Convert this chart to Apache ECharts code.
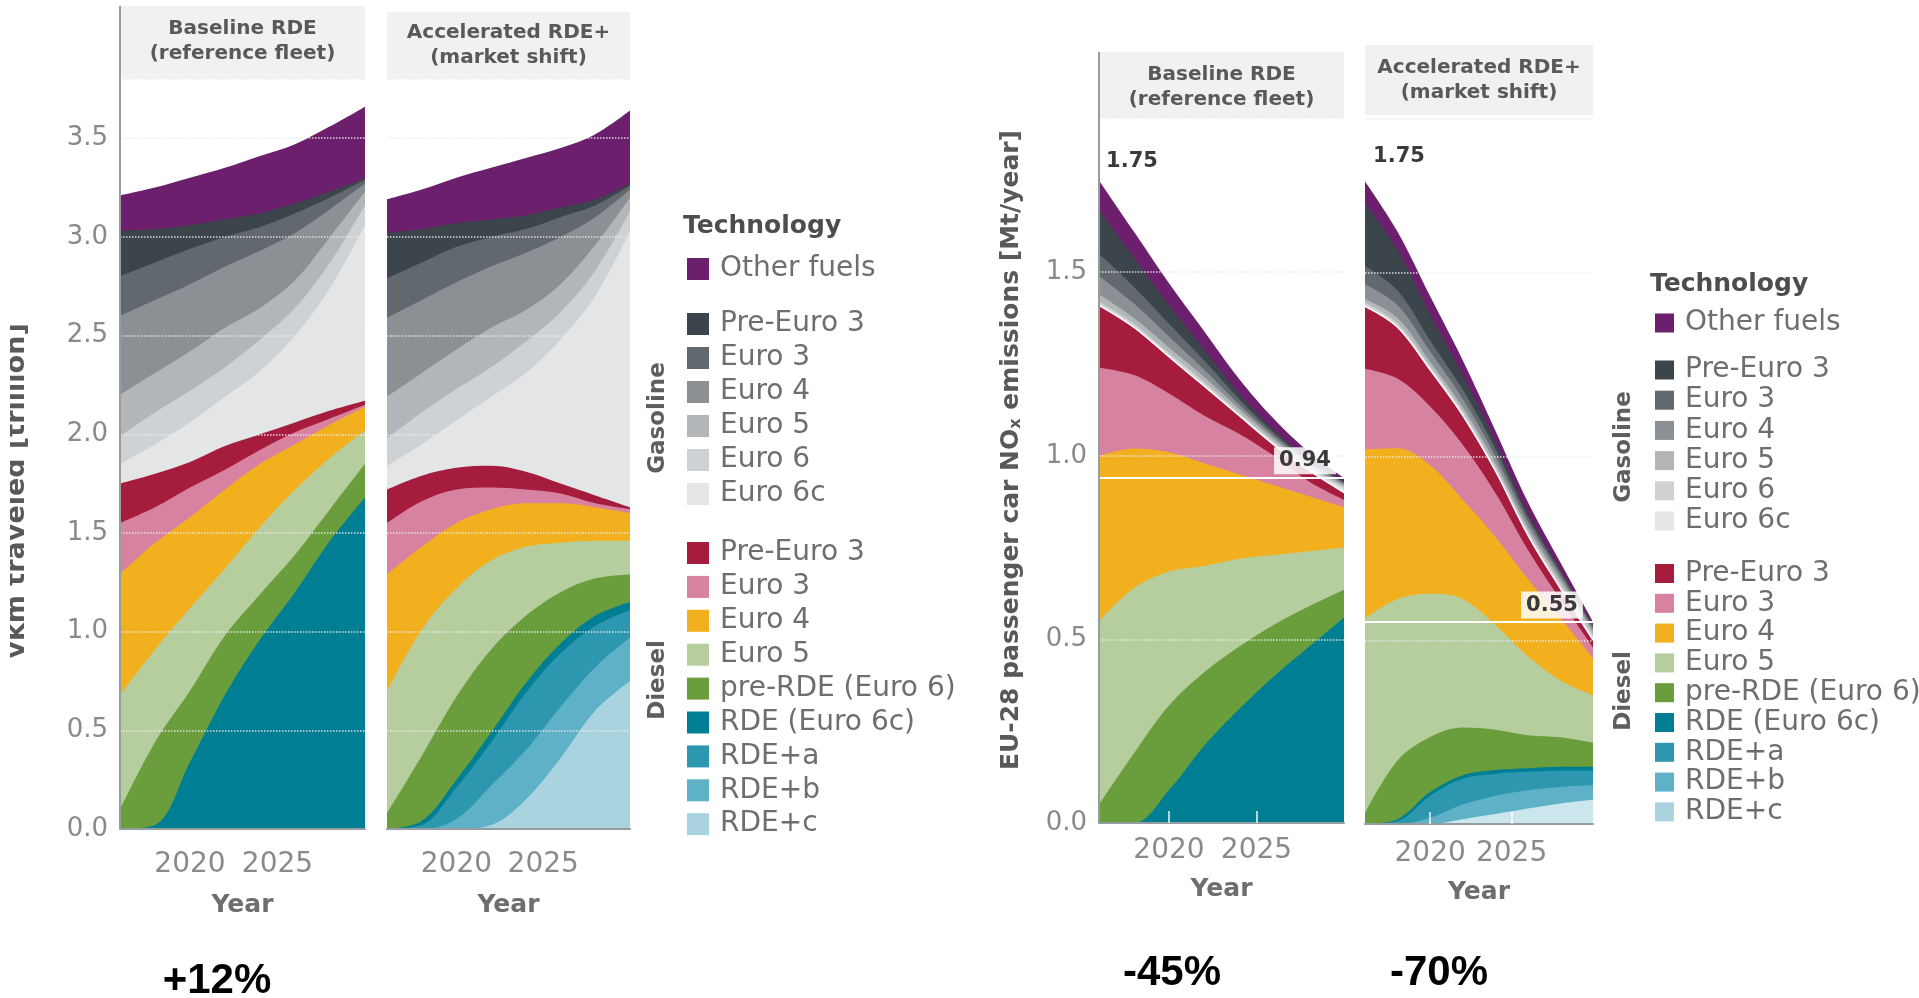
<!DOCTYPE html>
<html>
<head>
<meta charset="utf-8">
<title>VKM and NOx by technology</title>
<script src="https://cdn.jsdelivr.net/npm/echarts@6.0.0/dist/echarts.min.js"></script>
<style>
html,body{margin:0;padding:0;background:#fff;}
#chart{width:1919px;height:998px;}
</style>
</head>
<body>
<div id="chart"></div>
<script>
//年份
const years=[2016,2018,2020,2022,2024,2026,2028,2030];
const xTicks=[2020,2025];
//系列名，从下往上堆叠
const seriesNames=['Diesel RDE+c','Diesel RDE+b','Diesel RDE+a','Diesel RDE (Euro 6c)','Diesel pre-RDE (Euro 6)',
    'Diesel Euro 5','Diesel Euro 4','Diesel Euro 3','Diesel Pre-Euro 3',
    'Gasoline Euro 6c','Gasoline Euro 6','Gasoline Euro 5','Gasoline Euro 4','Gasoline Euro 3','Gasoline Pre-Euro 3',
    'Other fuels'];

//vkm traveled [trillion] - Baseline RDE
const vkmBaseline=[
    [0,0,0,0,0,0,0,0],
    [0,0,0,0,0,0,0,0],
    [0,0,0,0,0,0,0,0],
    [0,0.02,0.34,0.68,0.96,1.20,1.46,1.68],
    [0.10,0.42,0.36,0.30,0.23,0.19,0.16,0.17],
    [0.58,0.47,0.42,0.34,0.34,0.33,0.26,0.17],
    [0.61,0.54,0.46,0.40,0.32,0.23,0.17,0.12],
    [0.26,0.18,0.15,0.10,0.07,0.06,0.03,0.01],
    [0.20,0.17,0.13,0.12,0.08,0.05,0.04,0.02],
    [0.10,0.15,0.20,0.25,0.32,0.44,0.62,0.89],
    [0.14,0.16,0.16,0.15,0.16,0.14,0.13,0.10],
    [0.21,0.20,0.20,0.20,0.16,0.14,0.13,0.07],
    [0.40,0.37,0.34,0.31,0.29,0.24,0.14,0.04],
    [0.20,0.19,0.18,0.15,0.12,0.10,0.06,0.02],
    [0.23,0.17,0.12,0.09,0.07,0.05,0.03,0.01],
    [0.18,0.21,0.24,0.26,0.29,0.30,0.33,0.36]
];
//vkm traveled [trillion] - Accelerated RDE+
const vkmAccelerated=[
    [0,0,0,0.02,0.15,0.36,0.60,0.75],
    [0,0,0.05,0.20,0.25,0.26,0.22,0.22],
    [0,0.02,0.16,0.22,0.29,0.27,0.21,0.14],
    [0,0.02,0.04,0.05,0.05,0.05,0.05,0.04],
    [0.08,0.33,0.42,0.42,0.34,0.26,0.19,0.14],
    [0.62,0.64,0.55,0.45,0.35,0.25,0.19,0.17],
    [0.59,0.42,0.33,0.26,0.22,0.20,0.17,0.14],
    [0.26,0.23,0.17,0.11,0.07,0.05,0.02,0.02],
    [0.17,0.13,0.11,0.11,0.09,0.05,0.04,0.01],
    [0.12,0.16,0.24,0.35,0.50,0.73,1.01,1.40],
    [0.14,0.16,0.16,0.15,0.16,0.14,0.13,0.10],
    [0.21,0.20,0.20,0.20,0.16,0.14,0.13,0.07],
    [0.40,0.37,0.34,0.31,0.29,0.24,0.14,0.04],
    [0.20,0.19,0.18,0.15,0.12,0.10,0.06,0.02],
    [0.23,0.17,0.12,0.09,0.07,0.05,0.03,0.01],
    [0.17,0.20,0.23,0.26,0.29,0.30,0.33,0.37]
];
//NOx [Mt/year] - Baseline RDE
const noxBaseline=[
    [0,0,0,0,0,0,0,0],
    [0,0,0,0,0,0,0,0],
    [0,0,0,0,0,0,0,0],
    [0,0,0.09,0.21,0.31,0.40,0.48,0.56],
    [0.05,0.19,0.23,0.20,0.17,0.14,0.11,0.075],
    [0.50,0.45,0.365,0.29,0.24,0.19,0.15,0.115],
    [0.45,0.38,0.325,0.28,0.23,0.19,0.15,0.11],
    [0.24,0.20,0.16,0.13,0.11,0.08,0.04,0.02],
    [0.17,0.13,0.10,0.08,0.05,0.03,0.03,0.02],
    [0,0,0,0.004,0.003,0.003,0.004,0.009],
    [0.01,0.01,0.01,0.008,0.005,0.005,0.005,0.006],
    [0.02,0.015,0.015,0.013,0.01,0.008,0.006,0.005],
    [0.05,0.04,0.03,0.02,0.012,0.008,0.006,0.005],
    [0.06,0.045,0.035,0.025,0.015,0.008,0.005,0.003],
    [0.12,0.08,0.05,0.03,0.015,0.008,0.004,0.002],
    [0.08,0.07,0.06,0.05,0.04,0.03,0.02,0.01]
];
//NOx [Mt/year] - Accelerated RDE+
const noxAccelerated=[
    [0,0,0,0.013,0.027,0.042,0.056,0.066],
    [0,0,0.017,0.04,0.05,0.05,0.045,0.04],
    [0,0.008,0.06,0.07,0.06,0.05,0.045,0.04],
    [0,0.005,0.01,0.01,0.01,0.01,0.01,0.01],
    [0.03,0.16,0.15,0.13,0.11,0.09,0.08,0.065],
    [0.53,0.44,0.39,0.35,0.285,0.215,0.155,0.13],
    [0.46,0.41,0.35,0.27,0.24,0.21,0.17,0.10],
    [0.22,0.19,0.16,0.15,0.12,0.08,0.05,0.03],
    [0.17,0.14,0.10,0.08,0.06,0.04,0.03,0.02],
    [0,0,0,0.003,0.003,0.003,0.005,0.006],
    [0.01,0.01,0.01,0.008,0.007,0.007,0.008,0.008],
    [0.01,0.015,0.012,0.012,0.012,0.011,0.011,0.01],
    [0.04,0.035,0.028,0.022,0.018,0.015,0.012,0.008],
    [0.05,0.04,0.03,0.025,0.02,0.014,0.01,0.006],
    [0.17,0.11,0.07,0.04,0.02,0.01,0.005,0.002],
    [0.06,0.05,0.05,0.04,0.03,0.03,0.02,0.01]
];
//起点/终点标注
const noxStart=[1.75,1.75];
const noxEnd=[0.94,0.55];
const changeLabels=['+12%','-45%','-70%'];
const panelTitles=['Baseline RDE\n(reference fleet)','Accelerated RDE+\n(market shift)'];

const FONT="'DejaVu Sans', sans-serif";
const layerColors=['#a9d4df','#5eb1c6','#2c97ae','#007e94','#6a9e3c','#b6cd9e','#f2b01f','#d882a1','#a51c3d',
    '#e3e5e7','#cfd2d4','#b2b6b9','#8a9094','#62696e','#3b454b','#6c1f6c'];

//四个面板的布局
const panels=[
    {data:vkmBaseline,left:120,width:245,top:79,height:750,max:3.8,showY:true,labelMargin:22,nameGap:64,
        hTop:6,hH:73,hText:41,title:panelTitles[0]},
    {data:vkmAccelerated,left:387,width:243,top:79,height:750,max:3.8,showY:false,labelMargin:22,nameGap:64,
        hTop:12,hH:67,hText:45,title:panelTitles[1]},
    {data:noxBaseline,left:1099,width:245,top:118,height:705,max:1.92,showY:true,labelMargin:14,nameGap:54,
        hTop:52,hH:66,hText:87,title:panelTitles[0],nox:0},
    {data:noxAccelerated,left:1365,width:228,top:119,height:705,max:1.92,showY:false,labelMargin:16,nameGap:56,
        hTop:45,hH:70,hText:80,title:panelTitles[1],nox:1}
];

const grid=[],xAxis=[],yAxis=[],series=[];
panels.forEach((p,pi)=>{
    grid.push({left:p.left,top:p.top,width:p.width,height:p.height});
    xAxis.push({
        type:'value',gridIndex:pi,min:2016,max:2030,z:5,
        axisLine:{show:true,lineStyle:{color:'#969da1',width:2}},
        axisTick:{show:p.nox!==undefined,inside:true,length:12,customValues:xTicks,lineStyle:{color:'rgba(255,255,255,0.7)',width:2}},
        axisLabel:{customValues:xTicks,fontSize:28,color:'#8a8a8a',fontFamily:FONT,margin:p.labelMargin,
            formatter:v=>String(v)},
        splitLine:{show:false},
        name:'Year',nameLocation:'middle',nameGap:p.nameGap,
        nameTextStyle:{fontSize:25,fontWeight:'bold',color:'#6d6e70',fontFamily:FONT}
    });
    yAxis.push({
        type:'value',gridIndex:pi,min:0,max:p.max,interval:0.5,z:5,
        axisLine:{show:p.showY,lineStyle:{color:'#969da1',width:2}},
        axisTick:{show:false},
        axisLabel:{show:p.showY,showMaxLabel:false,fontSize:26,color:'#8a8a8a',fontFamily:FONT,margin:12,
            formatter:v=>v.toFixed(1)},
        splitLine:{lineStyle:{color:'rgba(236,236,236,0.9)',type:'dotted',width:1.5}}
    });
    //累计值：上层先画，下层盖在上面
    const cum=[];
    p.data.forEach((vals,i)=>{
        cum.push(vals.map((v,k)=>(i?cum[i-1][k]:0)+v));
    });
    for(let i=cum.length-1;i>=0;i--){
        let col=layerColors[i];
        if(pi===3&&i===0) col='#cbe6ec';
        const s={
            type:'line',name:seriesNames[i],xAxisIndex:pi,yAxisIndex:pi,
            data:years.map((y,k)=>[y,+cum[i][k].toFixed(4)]),
            smooth:0.35,symbol:'none',silent:true,color:col,
            lineStyle:{width:0},
            areaStyle:{color:col,opacity:1},
            emphasis:{disabled:true}
        };
        if(p.nox!==undefined&&i===8){
            s.lineStyle={width:1.5,color:'#ffffff'};
        }
        if(p.nox!==undefined&&i===15){
            s.markLine={
                symbol:['none','none'],silent:true,label:{show:false},
                lineStyle:{color:'#ffffff',width:2,type:'solid'},
                data:[{yAxis:noxEnd[p.nox]}]
            };
            s.markPoint={
                symbol:'circle',symbolSize:1,silent:true,itemStyle:{color:'rgba(0,0,0,0)'},
                label:{show:true,position:'inside',fontSize:21,fontWeight:'bold',color:'#3a3a3a',fontFamily:FONT,
                    formatter:params=>params.value.toFixed(2)},
                data:[
                    {coord:[2016,noxStart[p.nox]],value:noxStart[p.nox],label:{offset:p.nox?[34,-25]:[33,-19]}},
                    {coord:[2030,noxEnd[p.nox]],value:noxEnd[p.nox],
                        label:{offset:p.nox?[-41,-17]:[-39,-17],backgroundColor:'rgba(255,255,255,0.85)',padding:[3,5]}}
                ]
            };
        }
        series.push(s);
    }
});

//图例
const gasNames=['Gasoline Pre-Euro 3','Gasoline Euro 3','Gasoline Euro 4','Gasoline Euro 5','Gasoline Euro 6','Gasoline Euro 6c'];
const dieselNames=['Diesel Pre-Euro 3','Diesel Euro 3','Diesel Euro 4','Diesel Euro 5','Diesel pre-RDE (Euro 6)',
    'Diesel RDE (Euro 6c)','Diesel RDE+a','Diesel RDE+b','Diesel RDE+c'];
function makeLegend(left,top,names,w,h,gap){
    return {
        orient:'vertical',left:left,top:top,padding:0,icon:'rect',selectedMode:false,
        itemWidth:w,itemHeight:h,itemGap:gap,data:names,
        formatter:n=>n.replace(/^(Gasoline|Diesel) /,''),
        textStyle:{fontSize:28,color:'#6d6e70',fontFamily:FONT,padding:[0,0,0,6]}
    };
}
const legend=[
    makeLegend(687,255,['Other fuels'],22,22,6),
    makeLegend(687,310,gasNames,22,22,6),
    makeLegend(687,539,dieselNames,22,22,5.9),
    makeLegend(1655,309,['Other fuels'],19,19,2),
    makeLegend(1655,356,gasNames,19,19,2.2),
    makeLegend(1655,559.5,dieselNames,19,19,1.8)
];

//文字和标题框
function text(x,y,str,size,weight,fill,rot,extra){
    return {
        type:'text',x:x,y:y,rotation:rot||0,z:50,
        style:Object.assign({text:str,fontSize:size,fontWeight:weight,fontFamily:FONT,fill:fill,
            align:'center',verticalAlign:'middle',textAlign:'center',textVerticalAlign:'middle'},extra||{})
    };
}
const graphic=[];
panels.forEach(p=>{
    graphic.push({type:'rect',shape:{x:p.left,y:p.hTop,width:p.width,height:p.hH},style:{fill:'#f0f1f2'},z:1});
    graphic.push(text(p.left+p.width/2,p.hText,p.title,20,'bold','#58595b',0,{lineHeight:25}));
});
graphic.push({type:'line',shape:{x1:120,y1:6,x2:120,y2:79},style:{stroke:'#969da1',lineWidth:2},z:1});
graphic.push({type:'line',shape:{x1:1099,y1:52,x2:1099,y2:118},style:{stroke:'#969da1',lineWidth:2},z:1});
//y轴名称
graphic.push(text(17,491,'vkm traveled [trillion]',27,'bold','#58595b',Math.PI/2));
graphic.push({type:'rect',shape:{x:0,y:250,width:10,height:500},style:{fill:'#ffffff'},z:100});
graphic.push(text(1011,450,'EU-28 passenger car NO{sub|x} emissions [Mt/year]',25,'bold','#58595b',Math.PI/2,
    {rich:{sub:{fontSize:16,fontWeight:'bold',fontFamily:FONT,fill:'#58595b',verticalAlign:'bottom',padding:[10,0,0,0]}}}));
//图例标题
graphic.push(text(683,226,'Technology',25,'bold','#4d4d4f',0,{align:'left',textAlign:'left'}));
graphic.push(text(1650,284,'Technology',25,'bold','#4d4d4f',0,{align:'left',textAlign:'left'}));
graphic.push(text(658,418,'Gasoline',23,'bold','#5d5e60',Math.PI/2));
graphic.push(text(658,680,'Diesel',23,'bold','#5d5e60',Math.PI/2));
graphic.push(text(1624,447,'Gasoline',23,'bold','#5d5e60',Math.PI/2));
graphic.push(text(1624,691,'Diesel',23,'bold','#5d5e60',Math.PI/2));
//百分比变化
const pctPos=[[217,981],[1172,973],[1439,973]];
changeLabels.forEach((t,i)=>{
    graphic.push(text(pctPos[i][0],pctPos[i][1],t,42,'bold','#000000',0,{fontFamily:"'Liberation Sans', Arial, sans-serif"}));
});

//初始化
const chart=echarts.init(document.getElementById('chart'));
chart.setOption({
    animation:false,
    backgroundColor:'#ffffff',
    grid:grid,
    xAxis:xAxis,
    yAxis:yAxis,
    legend:legend,
    graphic:graphic,
    series:series
});
window.addEventListener('resize',()=>chart.resize());
</script>
</body>
</html>
